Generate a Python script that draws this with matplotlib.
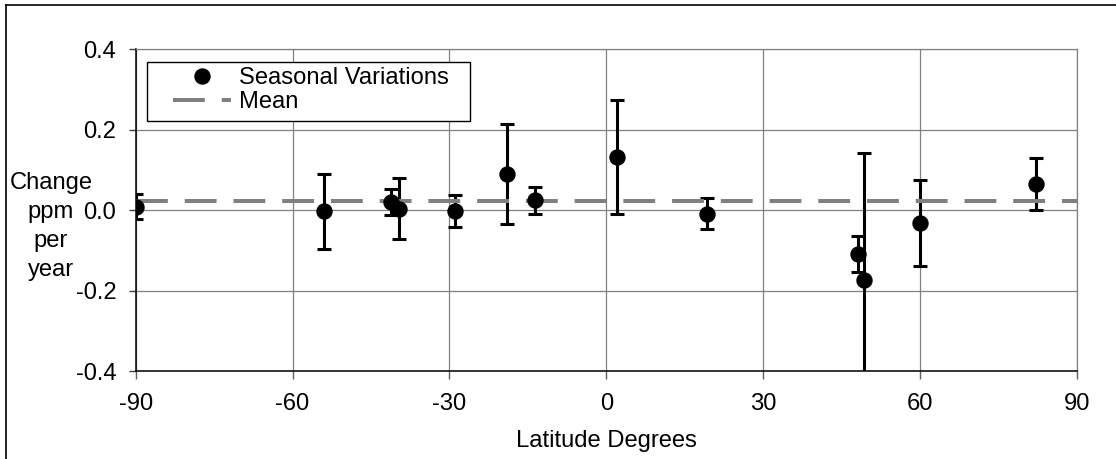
import matplotlib
matplotlib.use("Agg")
import matplotlib.pyplot as plt
from matplotlib.patches import Rectangle
from matplotlib.lines import Line2D

plt.rcParams['font.family'] = ['Liberation Sans', 'DejaVu Sans']
plt.rcParams['axes.unicode_minus'] = False

# values
latitude = [-90, -54, -41.2, -39.7, -29, -19, -13.7, 2, 19.3, 48.1, 49.3, 60.1, 82.2]
change = [0.009, -0.003, 0.021, 0.004, -0.003, 0.090, 0.024, 0.132, -0.009, -0.109, -0.173, -0.032, 0.065]
error = [0.032, 0.093, 0.032, 0.075, 0.040, 0.125, 0.034, 0.142, 0.039, 0.045, 0.315, 0.108, 0.064]
mean_change = 0.023

x_ticks = [-90, -60, -30, 0, 30, 60, 90]
y_ticks = [-0.4, -0.2, 0.0, 0.2, 0.4]
y_tick_labels = ["-0.4", "-0.2", "0.0", "0.2", "0.4"]
y_title_lines = ["Change", "ppm", "per", "year"]

fs = 17.1
W, H = 1116, 459
fig = plt.figure(figsize=(W / 100, H / 100), dpi=100)
ax = fig.add_axes([135.7 / W, 1 - 371 / H, (1076.7 - 135.7) / W, (371 - 49.3) / H])

# error bars first, then mean line, then the dots on top
ax.errorbar(latitude, change, yerr=error, fmt='none', ecolor='black',
            elinewidth=2.2, capsize=4.7, capthick=2.2, zorder=2)
ax.axhline(mean_change, color='#808080', lw=2.9, linestyle=(0, (7.9, 4.2)),
           label='Mean', zorder=3)
ax.plot(latitude, change, 'o', color='black', markersize=10.8, linestyle='none',
        label='Seasonal Variations', zorder=4)

ax.set_xlim(-90, 90)
ax.set_ylim(-0.4, 0.4)
ax.set_xticks(x_ticks)
ax.set_xticklabels([str(v) for v in x_ticks])
ax.set_yticks(y_ticks)
ax.set_yticklabels(y_tick_labels)
ax.grid(True, color='#808080', lw=0.9, zorder=0)
ax.set_axisbelow(True)
ax.tick_params(axis='x', direction='out', length=6, width=1, color='#606060',
               labelsize=fs, pad=10)
ax.tick_params(axis='y', direction='out', length=5, width=1, color='#404040',
               labelsize=fs, pad=9)
for s in ['top', 'right']:
    ax.spines[s].set_color('#808080')
    ax.spines[s].set_linewidth(0.9)
for s in ['left', 'bottom']:
    ax.spines[s].set_color('black')
    ax.spines[s].set_linewidth(1.1)

ax.set_xlabel('Latitude Degrees', fontsize=fs, labelpad=11)

# y title, one text per line (centred at x=51 px)
for i, line in enumerate(y_title_lines):
    fig.text(51 / W, 1 - (183 + 29 * i) / H, line, ha='center', va='center',
             fontsize=fs)

# legend box
ax.add_patch(Rectangle((0.0123, 0.778), 0.343, 0.1834, transform=ax.transAxes,
                       facecolor='white', edgecolor='black', lw=1, zorder=5))
handles, labels = ax.get_legend_handles_labels()
order = [labels.index('Seasonal Variations'), labels.index('Mean')]
leg = ax.legend([handles[i] for i in order], [labels[i] for i in order],
                loc='upper left', bbox_to_anchor=((173 - 135.7) / 941, (371 - 67) / 321.7),
                frameon=False, fontsize=fs, borderpad=0, borderaxespad=0,
                handlelength=2.45, handletextpad=0.33, labelspacing=0.08)
leg.set_zorder(6)

# outer border of the chart
fig.add_artist(Line2D([5.5 / W, 5.5 / W], [0, 1 - 5 / H], color='black', lw=1.2))
fig.add_artist(Line2D([5.5 / W, 1], [1 - 5 / H, 1 - 5 / H], color='black', lw=1.2))

fig.savefig('out.png', dpi=100)
